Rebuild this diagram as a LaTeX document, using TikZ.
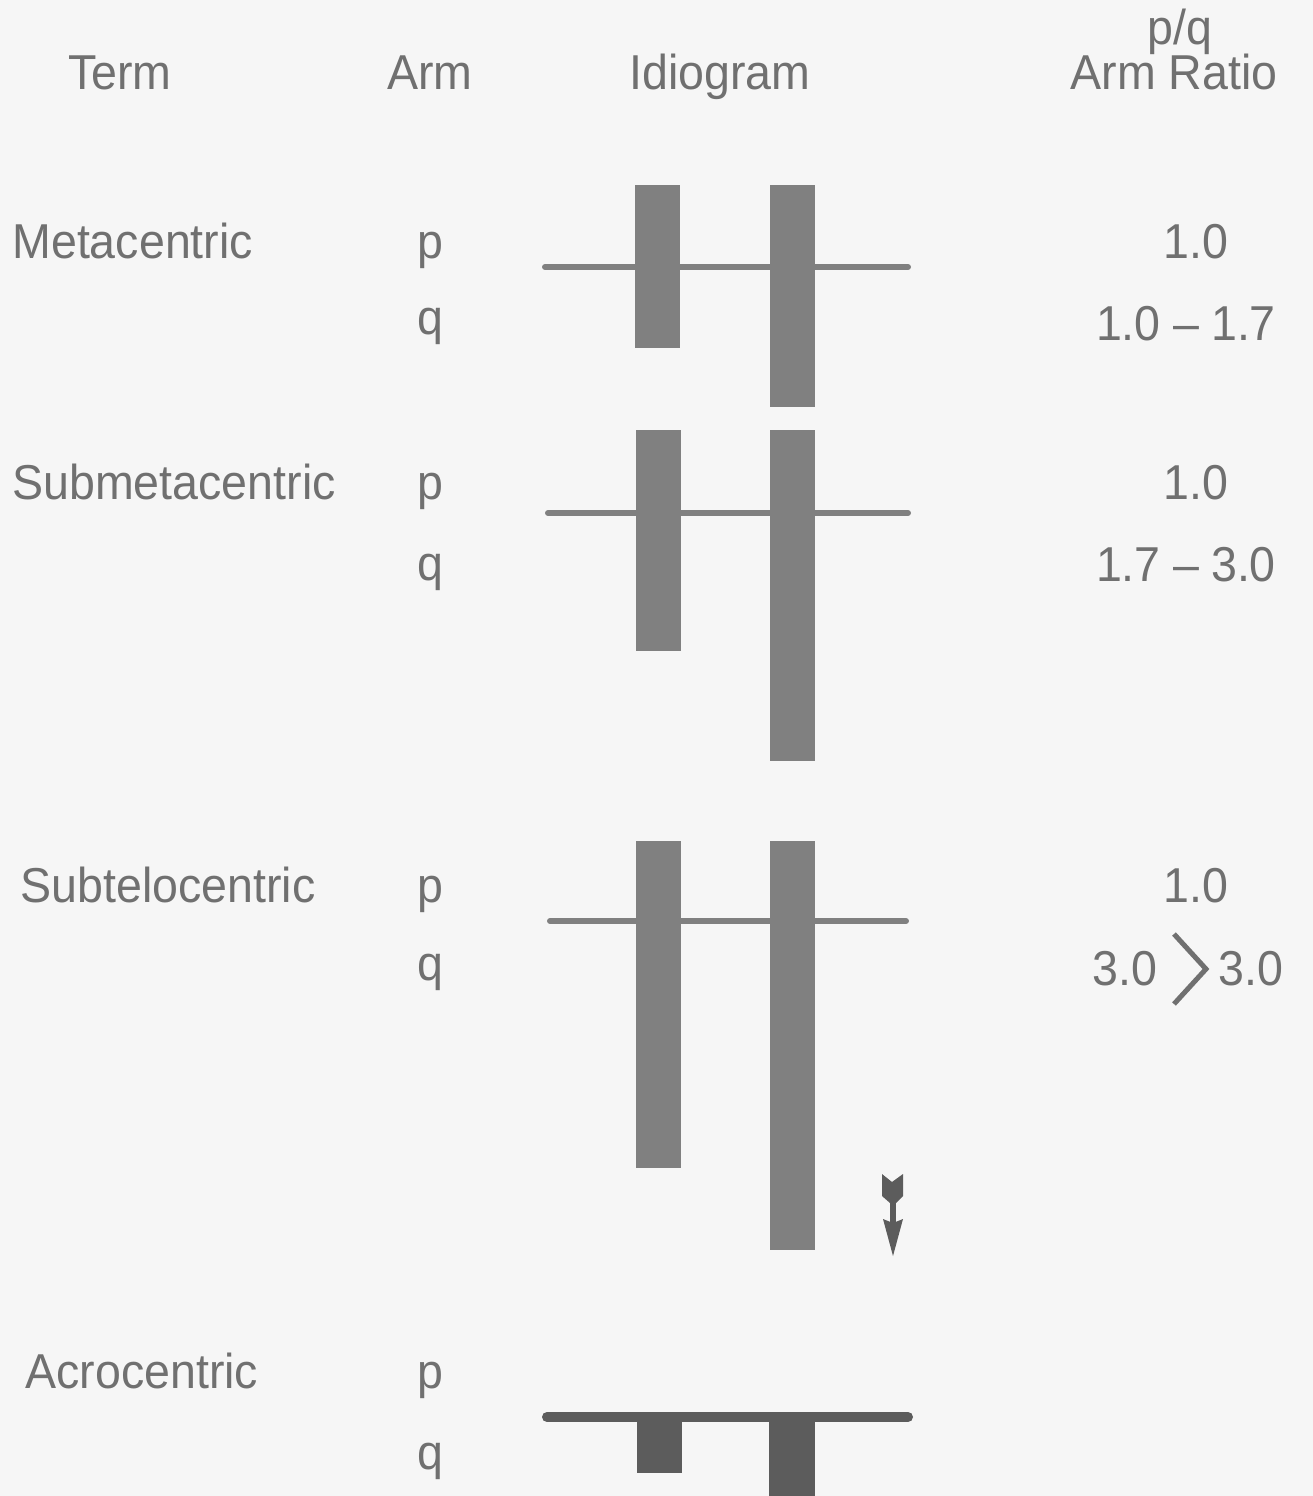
\documentclass[tikz,border=0pt]{standalone}
\usepackage{fontspec}
\setmainfont{Liberation Sans}[FakeStretch=0.95]
\definecolor{txt}{HTML}{707070}
\definecolor{barc}{HTML}{808080}
\definecolor{bard}{HTML}{5C5C5C}
\definecolor{bg}{HTML}{F6F6F6}
\tikzset{
  lbl/.style={inner sep=0pt, text=txt, font=\fontsize{24.5}{26}\selectfont},
  barbox/.style={fill=barc, draw=none},
  darkbar/.style={fill=bard, draw=none},
  cenline/.style={draw=barc, line width=3pt, line cap=round},
  darkline/.style={draw=bard, line width=5pt, line cap=round},
  chev/.style={draw=txt, line width=2.5pt},
  arrowc/.style={fill=bard, draw=none}
}
\begin{document}
\begin{tikzpicture}[x=0.5pt, y=-0.5pt]
\useasboundingbox (0,0) rectangle (1313,1496);
\fill[bg] (0,0) rectangle (1313,1496);

% headers
\node[lbl, anchor=base] (hterm) at (120,89) {Term};
\node[lbl, anchor=base] (harm) at (430,89) {Arm};
\node[lbl, anchor=base] (hidio) at (720,89) {Idiogram};
\node[lbl, anchor=base] (hpq) at (1180,44) {p/q};
\node[lbl, anchor=base] (hratio) at (1174,89) {Arm Ratio};

% row 1: Metacentric
\node[lbl, anchor=base west] (t1) at (12,258) {Metacentric};
\node[lbl, anchor=base] (p1) at (430,258) {p};
\node[lbl, anchor=base] (q1) at (430,334) {q};
\node[lbl, anchor=base] (r1a) at (1196,258) {1.0};
\node[lbl, anchor=base] (r1b) at (1186,340) {1.0\hspace{0.25em}--\hspace{0.25em}1.7};
\draw[cenline] (545,267) -- (908,267);
\fill[barbox] (635,185) rectangle (680,348);
\fill[barbox] (770,185) rectangle (815,407);

% row 2: Submetacentric
\node[lbl, anchor=base west] (t2) at (12,499) {Submetacentric};
\node[lbl, anchor=base] (p2) at (430,499) {p};
\node[lbl, anchor=base] (q2) at (430,580) {q};
\node[lbl, anchor=base] (r2a) at (1196,499) {1.0};
\node[lbl, anchor=base] (r2b) at (1186,581) {1.7\hspace{0.25em}--\hspace{0.25em}3.0};
\draw[cenline] (548,513) -- (908,513);
\fill[barbox] (636,430) rectangle (681,651);
\fill[barbox] (770,430) rectangle (815,761);

% row 3: Subtelocentric
\node[lbl, anchor=base west] (t3) at (20,902) {Subtelocentric};
\node[lbl, anchor=base] (p3) at (430,902) {p};
\node[lbl, anchor=base] (q3) at (430,980) {q};
\node[lbl, anchor=base] (r3a) at (1196,902) {1.0};
\node[lbl, anchor=base east] (r3b) at (1158,985) {3.0};
\node[lbl, anchor=base west] (r3c) at (1218,985) {3.0};
\draw[chev] (1174,934) -- (1206,969) -- (1174,1004);
\draw[cenline] (550,921) -- (906,921);
\fill[barbox] (636,841) rectangle (681,1168);
\fill[barbox] (770,841) rectangle (815,1250);
% arrow
\fill[arrowc] (882,1174) -- (892,1182) -- (903,1174) -- (903,1196) -- (896,1203) -- (890,1203) -- (882,1196) -- cycle;
\fill[arrowc] (890,1200) rectangle (896,1224);
\fill[arrowc] (883,1219) -- (893,1223) -- (903,1219) -- (893,1256) -- cycle;

% row 4: Acrocentric
\node[lbl, anchor=base west] (t4) at (25,1388) {Acrocentric};
\node[lbl, anchor=base] (p4) at (430,1388) {p};
\node[lbl, anchor=base] (q4) at (430,1469) {q};
\fill[darkbar] (637,1416) rectangle (682,1473);
\fill[darkbar] (769,1416) rectangle (815,1500);
\draw[darkline] (547,1417) -- (908,1417);
\end{tikzpicture}
\end{document}
